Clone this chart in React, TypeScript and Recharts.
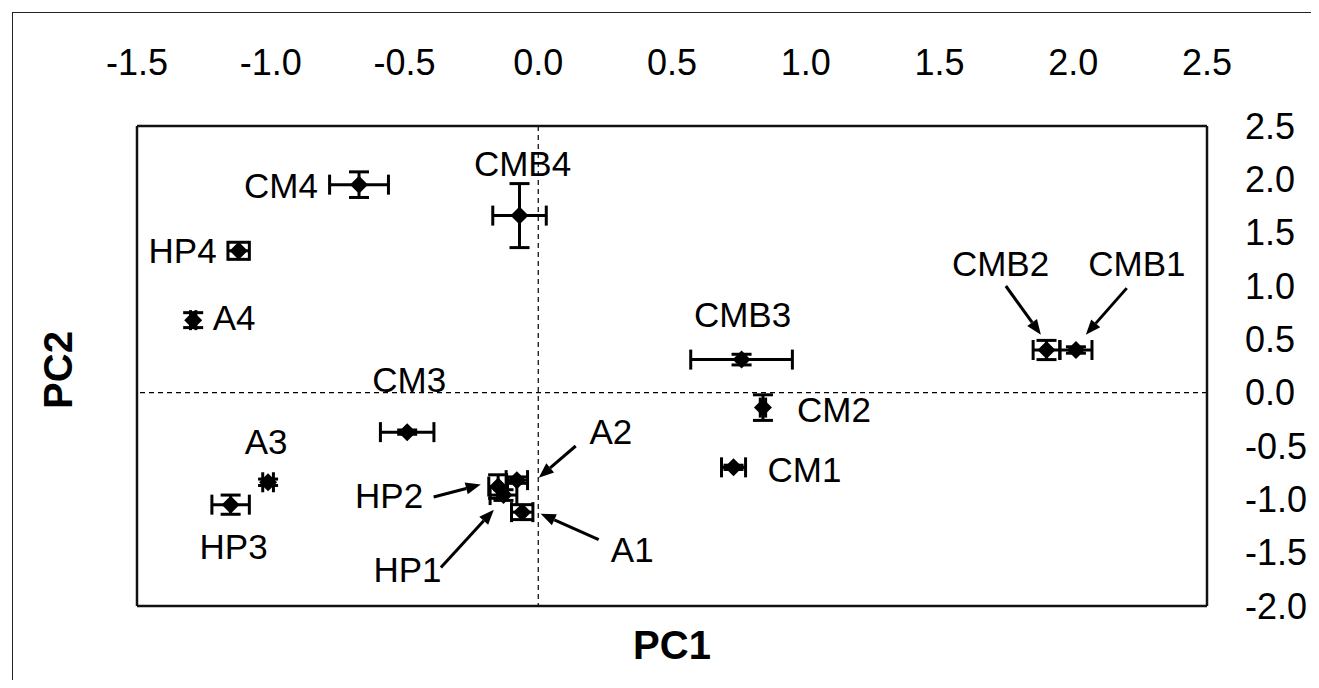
import React from "react";
import { ScatterChart, Scatter, XAxis, YAxis, ErrorBar, ReferenceLine } from "recharts";

const names = ["CM4", "CMB4", "HP4", "A4", "CM3", "A3", "HP3", "HP2", "HP1", "A2", "A1", "CMB3", "CM2", "CM1", "CMB2", "CMB1"];
const pc1 = [-0.67, -0.07, -1.12, -1.29, -0.49, -1.01, -1.15, -0.15, -0.13, -0.08, -0.06, 0.76, 0.84, 0.73, 1.9, 2.01];
const pc2 = [1.95, 1.66, 1.33, 0.68, -0.37, -0.84, -1.05, -0.88, -0.96, -0.82, -1.12, 0.31, -0.14, -0.7, 0.4, 0.4];
const pc1Err = [0.11, 0.1, 0.04, 0.01, 0.1, 0.02, 0.07, 0.035, 0.05, 0.04, 0.04, 0.19, 0.01, 0.045, 0.05, 0.06];
const pc2Err = [0.12, 0.3, 0.08, 0.07, 0.02, 0.03, 0.09, 0.11, 0.05, 0.03, 0.07, 0.05, 0.12, 0.02, 0.09, 0.03];

const xTicks = [-1.5, -1.0, -0.5, 0.0, 0.5, 1.0, 1.5, 2.0, 2.5];
const yTicks = [-2.0, -1.5, -1.0, -0.5, 0.0, 0.5, 1.0, 1.5, 2.0, 2.5];

// where each name sits, px from the marker centre
const labelOffsets: Record<string, [number, number]> = {
  CM4: [-78, 1],
  CMB4: [3, -52],
  HP4: [-56, 0],
  A4: [41, -3],
  CM3: [2, -53],
  A3: [-2, -41],
  HP3: [3, 42],
  HP2: [-109, 9],
  HP1: [-96, 74],
  A2: [94, -49],
  A1: [110, 37],
  CMB3: [1, -45],
  CM2: [71, 2],
  CM1: [71, 2],
  CMB2: [-46, -87],
  CMB1: [61, -87],
};

// pointer arrows: [fromPC1, fromPC2, toPC1, toPC2]
const arrows: [number, number, number, number][] = [
  [1.748, 1.0, 1.879, 0.544],
  [2.2, 0.98, 2.047, 0.544],
  [0.14, -0.5, 0.002, -0.797],
  [-0.391, -0.978, -0.215, -0.862],
  [-0.364, -1.64, -0.166, -1.097],
  [0.226, -1.378, 0.009, -1.134],
];

const points = names.map((name, i) => ({ name, x: pc1[i], y: pc2[i], ex: pc1Err[i], ey: pc2Err[i] }));

const FONT = '"Liberation Sans", Arial, sans-serif';

function Diamond(props: any) {
  const { cx, cy, payload } = props;
  const [dx, dy] = labelOffsets[payload.name] ?? [0, -40];
  const s = 9;
  return (
    <g>
      <polygon points={`${cx},${cy - s} ${cx + s},${cy} ${cx},${cy + s} ${cx - s},${cy}`} fill="#000" />
      <text x={cx + dx} y={cy + dy} dy="0.36em" textAnchor="middle" fontSize={35} fill="#000" fontFamily={FONT}>
        {payload.name}
      </text>
    </g>
  );
}

function Arrow(props: any) {
  const { x1, y1, x2, y2 } = props;
  const ang = Math.atan2(y2 - y1, x2 - x1);
  const len = 15;
  const half = 6;
  const bx = x2 - len * Math.cos(ang);
  const by = y2 - len * Math.sin(ang);
  const px = -Math.sin(ang) * half;
  const py = Math.cos(ang) * half;
  return (
    <g>
      <line x1={x1} y1={y1} x2={bx} y2={by} stroke="#000" strokeWidth={3} />
      <polygon points={`${x2},${y2} ${bx + px},${by + py} ${bx - px},${by - py}`} fill="#000" />
    </g>
  );
}

const axisLine = { stroke: "#111", strokeWidth: 2.5 };
const tickStyle = { fontSize: 36, fill: "#000", fontFamily: FONT };

export default function App() {
  return (
    <div style={{ position: "relative", width: 1303, height: 672 }}>
      <div
        style={{
          position: "absolute",
          left: 4,
          top: 4,
          width: 1299,
          height: 668,
          boxSizing: "border-box",
          borderLeft: "1.5px solid #222",
          borderTop: "1.5px solid #222",
        }}
      />
      <ScatterChart width={1303} height={672} margin={{ top: 0, right: 0, bottom: 0, left: 0 }} style={{ fontFamily: FONT }}>
        <XAxis
          type="number"
          dataKey="x"
          orientation="top"
          domain={[-1.5, 2.5]}
          allowDataOverflow
          ticks={xTicks}
          interval={0}
          tickFormatter={(v: number) => v.toFixed(1)}
          height={118}
          tickSize={0}
          tickMargin={51}
          tickLine={false}
          axisLine={axisLine}
          tick={tickStyle}
        />
        <XAxis
          xAxisId="b"
          type="number"
          orientation="bottom"
          domain={[-1.5, 2.5]}
          allowDataOverflow
          height={74}
          tick={false}
          tickLine={false}
          axisLine={axisLine}
          label={(p: any) => {
            const vb = p.viewBox;
            return (
              <text x={vb.x + vb.width / 2} y={vb.y + 39} dy="0.36em" textAnchor="middle" fontSize={40} fontWeight="bold" fill="#000" fontFamily={FONT}>
                PC1
              </text>
            );
          }}
        />
        <YAxis
          type="number"
          dataKey="y"
          orientation="right"
          domain={[-2, 2.5]}
          allowDataOverflow
          ticks={yTicks}
          interval={0}
          tickFormatter={(v: number) => v.toFixed(1)}
          width={104}
          tickSize={0}
          tickMargin={38}
          tickLine={false}
          axisLine={axisLine}
          tick={tickStyle}
        />
        <YAxis
          yAxisId="l"
          type="number"
          orientation="left"
          domain={[-2, 2.5]}
          allowDataOverflow
          width={129}
          tick={false}
          tickLine={false}
          axisLine={axisLine}
          label={(p: any) => {
            const vb = p.viewBox;
            const cx = 50;
            const cy = vb.y + vb.height / 2 + 4;
            return (
              <text x={cx} y={cy} dy="0.36em" textAnchor="middle" fontSize={40} fontWeight="bold" fill="#000" fontFamily={FONT} transform={`rotate(-90, ${cx}, ${cy})`}>
                PC2
              </text>
            );
          }}
        />
        <ReferenceLine x={0} stroke="#000" strokeDasharray="5 4" strokeWidth={1.2} />
        <ReferenceLine y={0} stroke="#000" strokeDasharray="5 4" strokeWidth={1.2} />
        <Scatter data={points} shape={Diamond} isAnimationActive={false}>
          <ErrorBar dataKey="ex" direction="x" width={10} stroke="#000" strokeWidth={3} isAnimationActive={false} />
          <ErrorBar dataKey="ey" direction="y" width={10} stroke="#000" strokeWidth={3} isAnimationActive={false} />
        </Scatter>
        {arrows.map((a, i) => (
          <ReferenceLine
            key={i}
            segment={[
              { x: a[0], y: a[1] },
              { x: a[2], y: a[3] },
            ]}
            shape={Arrow}
          />
        ))}
      </ScatterChart>
    </div>
  );
}
